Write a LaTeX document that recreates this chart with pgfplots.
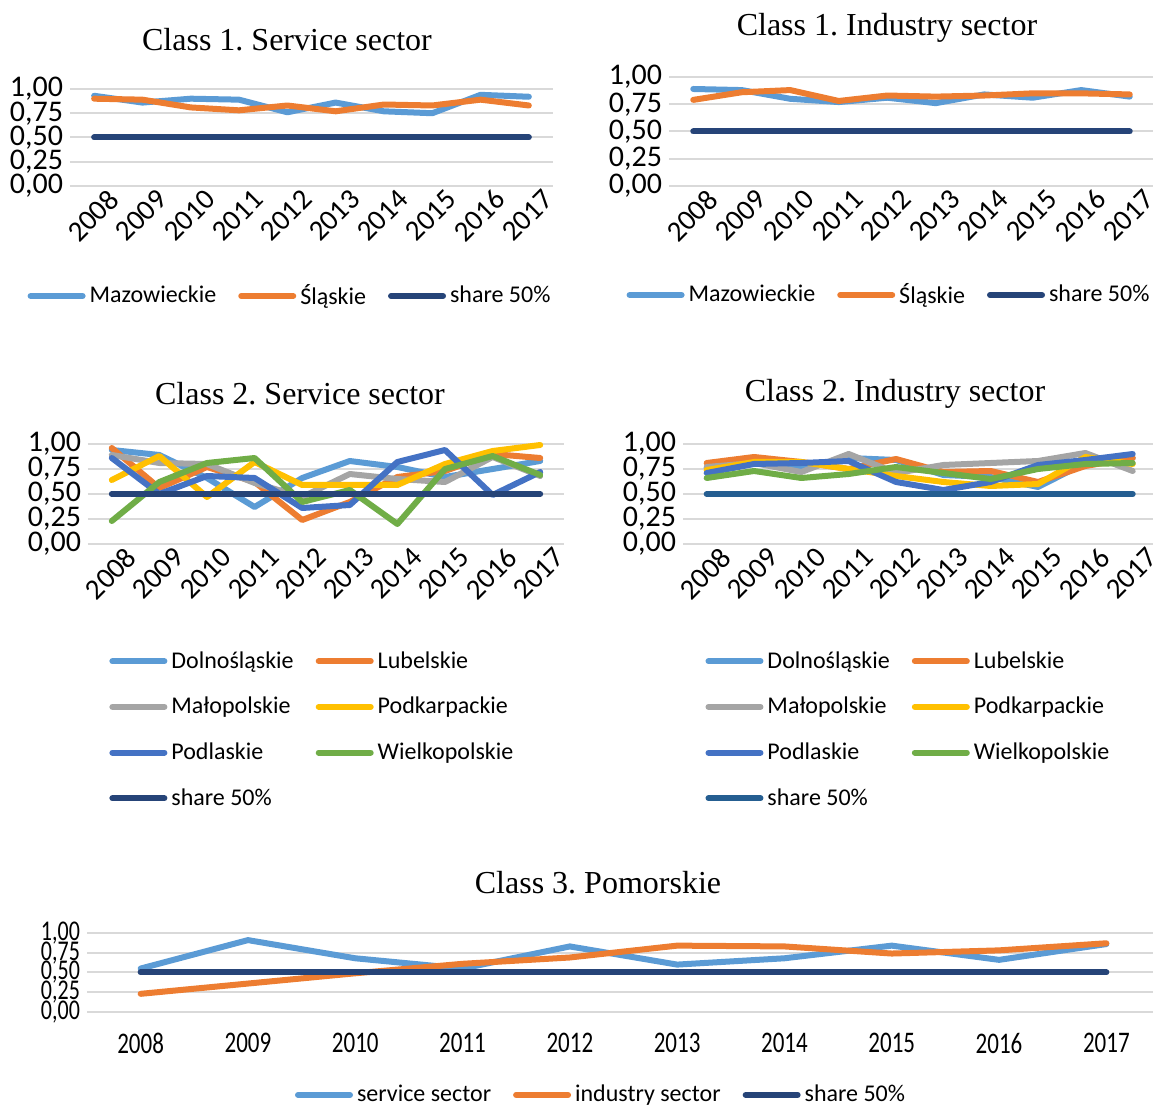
\documentclass[border=0pt]{standalone}
\usepackage{pgfplots}
\pgfplotsset{compat=1.18}
\usepackage{graphicx}
\usepackage{fontspec}
\setmainfont{Carlito}
\newfontfamily\serif{Liberation Serif}
\definecolor{c1}{HTML}{5B9BD5}
\definecolor{c2}{HTML}{ED7D31}
\definecolor{c3}{HTML}{A5A5A5}
\definecolor{c4}{HTML}{FFC000}
\definecolor{c5}{HTML}{4472C4}
\definecolor{c6}{HTML}{70AD47}
\definecolor{navy}{HTML}{264478}
\definecolor{steel}{HTML}{255E91}
\definecolor{gridc}{HTML}{D9D9D9}
\newcommand{\tl}[1]{\scalebox{1}[1.3]{#1}}
\pgfplotsset{legend image code/.code={\draw[#1,line cap=round] (0pt,0pt) -- (26pt,0pt);}}
\pgfplotsset{
  xl/.style={
    scale only axis, clip=false,
    xmin=-0.5, xmax=9.5, ymin=0, ymax=1,
    axis line style={draw=none}, tick style={draw=none},
    ymajorgrids, grid style={draw=gridc, line width=1pt},
    ytick={0,0.25,0.5,0.75,1},
    yticklabels={{0,00},{0,25},{0,50},{0,75},{1,00}},
    xtick={0,...,9},
    xticklabels={2008,2009,2010,2011,2012,2013,2014,2015,2016,2017},
    yticklabel style={font=\fontsize{15}{15}\selectfont},
    xticklabel style={font=\fontsize{14.5}{14.5}\selectfont},
    legend cell align=left,
    legend style={draw=none, fill=none, font=\fontsize{12}{12}\selectfont,
      /tikz/every even column/.append style={column sep=9pt}},
  },
  rot/.style={xticklabel style={rotate=45, anchor=east, inner sep=1pt, xshift=5pt, yshift=-10pt}},
  ln/.style={line width=3pt, line join=round, line cap=round},
}
\begin{document}
\frenchspacing
\begin{tikzpicture}
% ---------- Class 1 Service
\begin{axis}[xl, rot, at={(35pt,-93pt)}, anchor=south west, width=241.5pt, height=48.5pt,
  legend columns=3, legend style={at={(0.4576,-1.134)}, anchor=center}]
\addplot[c1, ln] coordinates {(0,0.93) (1,0.86) (2,0.90) (3,0.89) (4,0.76) (5,0.86) (6,0.77) (7,0.75) (8,0.94) (9,0.92)};
\addlegendentry{Mazowieckie}
\addplot[c2, ln] coordinates {(0,0.90) (1,0.89) (2,0.81) (3,0.78) (4,0.83) (5,0.77) (6,0.84) (7,0.83) (8,0.89) (9,0.83)};
\addlegendentry{Śląskie}
\addplot[navy, ln] coordinates {(0,0.5) (1,0.5) (2,0.5) (3,0.5) (4,0.5) (5,0.5) (6,0.5) (7,0.5) (8,0.5) (9,0.5)};
\addlegendentry{share 50\%}
\end{axis}
% ---------- Class 1 Industry
\begin{axis}[xl, rot, at={(334.5pt,-93pt)}, anchor=south west, width=242.5pt, height=54.5pt,
  legend columns=3, legend style={at={(0.4557,-1.0)}, anchor=center}]
\addplot[c1, ln] coordinates {(0,0.89) (1,0.88) (2,0.80) (3,0.77) (4,0.81) (5,0.76) (6,0.84) (7,0.81) (8,0.88) (9,0.82)};
\addlegendentry{Mazowieckie}
\addplot[c2, ln] coordinates {(0,0.79) (1,0.86) (2,0.88) (3,0.78) (4,0.83) (5,0.82) (6,0.83) (7,0.85) (8,0.85) (9,0.84)};
\addlegendentry{Śląskie}
\addplot[navy, ln] coordinates {(0,0.5) (1,0.5) (2,0.5) (3,0.5) (4,0.5) (5,0.5) (6,0.5) (7,0.5) (8,0.5) (9,0.5)};
\addlegendentry{share 50\%}
\end{axis}
% ---------- Class 2 Service
\begin{axis}[xl, rot, at={(44pt,-272pt)}, anchor=south west, width=238pt, height=50pt,
  legend columns=2, legend style={at={(0.0315,-0.99)}, anchor=north west, row sep=9pt}]
\addplot[c1, ln] coordinates {(0,0.94) (1,0.89) (2,0.66) (3,0.37) (4,0.66) (5,0.83) (6,0.77) (7,0.67) (8,0.75) (9,0.83)};
\addlegendentry{Dolnośląskie}
\addplot[c2, ln] coordinates {(0,0.96) (1,0.56) (2,0.77) (3,0.62) (4,0.24) (5,0.42) (6,0.67) (7,0.73) (8,0.90) (9,0.86)};
\addlegendentry{Lubelskie}
\addplot[c3, ln] coordinates {(0,0.89) (1,0.81) (2,0.80) (3,0.61) (4,0.47) (5,0.70) (6,0.65) (7,0.62) (8,0.87) (9,0.68)};
\addlegendentry{Małopolskie}
\addplot[c4, ln] coordinates {(0,0.64) (1,0.88) (2,0.47) (3,0.82) (4,0.59) (5,0.59) (6,0.59) (7,0.80) (8,0.93) (9,0.99)};
\addlegendentry{Podkarpackie}
\addplot[c5, ln] coordinates {(0,0.86) (1,0.50) (2,0.68) (3,0.66) (4,0.36) (5,0.39) (6,0.82) (7,0.94) (8,0.49) (9,0.72)};
\addlegendentry{Podlaskie}
\addplot[c6, ln] coordinates {(0,0.23) (1,0.62) (2,0.81) (3,0.86) (4,0.42) (5,0.54) (6,0.20) (7,0.75) (8,0.88) (9,0.69)};
\addlegendentry{Wielkopolskie}
\addplot[navy, ln] coordinates {(0,0.5) (1,0.5) (2,0.5) (3,0.5) (4,0.5) (5,0.5) (6,0.5) (7,0.5) (8,0.5) (9,0.5)};
\addlegendentry{share 50\%}
\end{axis}
% ---------- Class 2 Industry
\begin{axis}[xl, rot, at={(341.5pt,-272pt)}, anchor=south west, width=236.7pt, height=50pt,
  legend columns=2, legend style={at={(0.034,-0.99)}, anchor=north west, row sep=9pt}]
\addplot[c1, ln] coordinates {(0,0.76) (1,0.81) (2,0.75) (3,0.86) (4,0.84) (5,0.69) (6,0.67) (7,0.57) (8,0.81) (9,0.86)};
\addlegendentry{Dolnośląskie}
\addplot[c2, ln] coordinates {(0,0.81) (1,0.87) (2,0.82) (3,0.75) (4,0.85) (5,0.72) (6,0.73) (7,0.62) (8,0.78) (9,0.86)};
\addlegendentry{Lubelskie}
\addplot[c3, ln] coordinates {(0,0.77) (1,0.81) (2,0.72) (3,0.90) (4,0.71) (5,0.79) (6,0.81) (7,0.83) (8,0.91) (9,0.73)};
\addlegendentry{Małopolskie}
\addplot[c4, ln] coordinates {(0,0.74) (1,0.82) (2,0.82) (3,0.75) (4,0.68) (5,0.62) (6,0.58) (7,0.60) (8,0.87) (9,0.80)};
\addlegendentry{Podkarpackie}
\addplot[c5, ln] coordinates {(0,0.71) (1,0.80) (2,0.81) (3,0.83) (4,0.62) (5,0.54) (6,0.62) (7,0.79) (8,0.84) (9,0.90)};
\addlegendentry{Podlaskie}
\addplot[c6, ln] coordinates {(0,0.66) (1,0.73) (2,0.66) (3,0.70) (4,0.77) (5,0.71) (6,0.65) (7,0.75) (8,0.80) (9,0.81)};
\addlegendentry{Wielkopolskie}
\addplot[steel, ln] coordinates {(0,0.5) (1,0.5) (2,0.5) (3,0.5) (4,0.5) (5,0.5) (6,0.5) (7,0.5) (8,0.5) (9,0.5)};
\addlegendentry{share 50\%}
\end{axis}
% ---------- Class 3
\begin{axis}[xl, at={(43.5pt,-506pt)}, anchor=south west, width=536.5pt, height=39.5pt,
  yticklabels={{\tl{0,00}},{\tl{0,25}},{\tl{0,50}},{\tl{0,75}},{\tl{1,00}}},
  xticklabels={\tl{2008},\tl{2009},\tl{2010},\tl{2011},\tl{2012},\tl{2013},\tl{2014},\tl{2015},\tl{2016},\tl{2017}},
  yticklabel style={font=\fontsize{11}{11}\selectfont},
  xticklabel style={font=\fontsize{11.5}{11.5}\selectfont, yshift=-7pt},
  legend columns=3, legend style={at={(0.48,-1.05)}, anchor=center}]
\addplot[c1, ln] coordinates {(0,0.55) (1,0.91) (2,0.68) (3,0.55) (4,0.83) (5,0.60) (6,0.68) (7,0.84) (8,0.66) (9,0.86)};
\addlegendentry{service sector}
\addplot[c2, ln] coordinates {(0,0.23) (1,0.36) (2,0.49) (3,0.61) (4,0.69) (5,0.84) (6,0.83) (7,0.74) (8,0.78) (9,0.87)};
\addlegendentry{industry sector}
\addplot[navy, ln] coordinates {(0,0.5) (1,0.5) (2,0.5) (3,0.5) (4,0.5) (5,0.5) (6,0.5) (7,0.5) (8,0.5) (9,0.5)};
\addlegendentry{share 50\%}
\end{axis}
% ---------- titles
\node[font=\serif\fontsize{16}{16}\selectfont] at (143.5pt,-20pt) {Class 1. Service sector};
\node[font=\serif\fontsize{16}{16}\selectfont] at (443.5pt,-14pt) {Class 1. Industry sector};
\node[font=\serif\fontsize{16}{16}\selectfont] at (150pt,-197pt) {Class 2. Service sector};
\node[font=\serif\fontsize{16}{16}\selectfont] at (447.5pt,-197pt) {Class 2. Industry sector};
\node[font=\serif\fontsize{16}{16}\selectfont] at (299pt,-441.5pt) {Class 3. Pomorskie};
\pgfresetboundingbox
\path (0pt,0pt) rectangle (576.5pt,-553pt);
\end{tikzpicture}
\end{document}
